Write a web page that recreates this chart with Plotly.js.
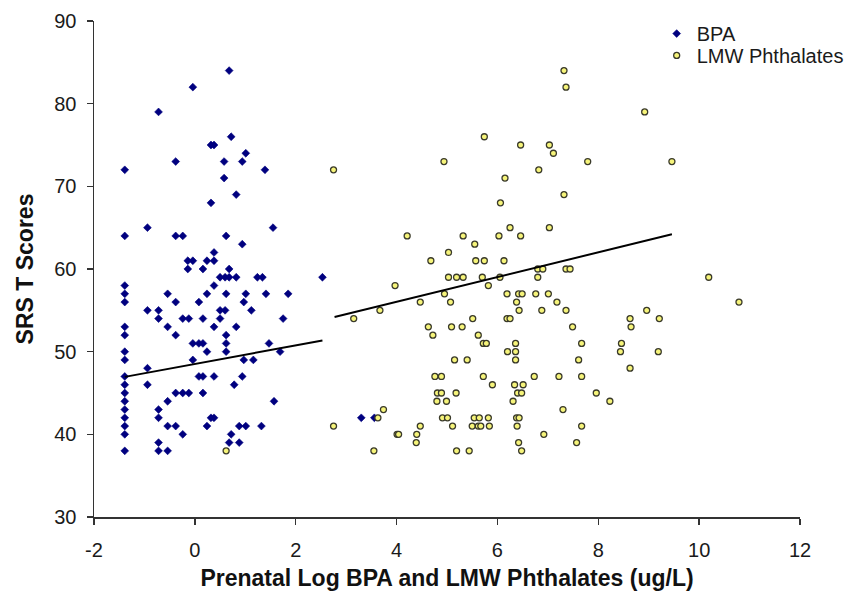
<!DOCTYPE html>
<html>
<head>
<meta charset="utf-8">
<script src="https://cdn.plot.ly/plotly-3.0.1.min.js"></script>
<style>html,body{margin:0;padding:0;background:#fff;}#chart{width:848px;height:591px;}</style>
</head>
<body>
<div id="chart"></div>
<script>
// BPA (log ug/L) vs SRS T score
const bpaX = [
  -1.39,-1.39,-1.39,-1.39,-1.39,-1.39,-1.39,-1.39,-1.39,-1.39,-1.39,-1.39,-1.39,-1.39,-1.39,-1.39,-1.39,-1.39,
  -0.04,-0.72,0.32,0.38,-0.38,0.68,0.72,1.01,0.58,0.94,1.39,0.58,0.82,0.32,-0.94,1.55,-0.38,-0.24,0.62,0.94,0.38,
  -0.14,-0.04,0.24,0.38,
  -0.14,0.16,0.68,
  0.50,0.60,0.68,0.82,1.24,1.34,2.53,
  0.38,
  -0.54,0.24,0.62,1.01,1.41,1.85,
  -0.38,0.08,0.97,
  -0.94,-0.72,0.50,0.60,1.12,
  -0.72,-0.24,-0.12,0.16,0.50,1.75,
  -0.54,0.38,0.82,
  -0.38,0.62,
  -0.04,0.08,0.16,0.62,1.47,
  0.24,0.62,1.69,
  -0.04,0.97,1.16,
  -0.94,
  0.08,0.16,0.38,0.94,
  -0.94,0.78,
  -0.38,-0.24,-0.12,0.16,
  -0.54,1.57,
  -0.72,
  -0.72,0.32,0.38,3.30,3.56,
  -0.54,-0.38,0.24,0.88,1.01,1.32,
  -0.24,0.72,
  -0.72,0.68,0.88,
  -0.72,-0.54
];
const bpaY = [
  72,64,58,57,56,53,52,50,49,47,46,45,44,43,42,41,40,38,
  82,79,75,75,73,84,76,74,73,73,72,71,69,68,65,65,64,64,64,63,62,
  61,61,61,61,
  60,60,60,
  59,59,59,59,59,59,59,
  58,
  57,57,57,57,57,57,
  56,56,56,
  55,55,55,55,55,
  54,54,54,54,54,54,
  53,53,53,
  52,52,
  51,51,51,51,51,
  50,50,50,
  49,49,49,
  48,
  47,47,47,47,
  46,46,
  45,45,45,45,
  44,44,
  43,
  42,42,42,42,42,
  41,41,41,41,41,41,
  40,40,
  39,39,39,
  38,38
];

// LMW Phthalates (log ug/L) vs SRS T score
const lmwX = [
  7.32, 7.36, 8.92, 5.74,
  6.46,7.03, 7.11, 4.94,7.79,9.46, 2.75,6.82, 6.15, 7.32, 6.06, 6.25,7.03,
  4.21,5.32,6.03,6.46, 5.55, 5.03, 4.68,5.57,5.74,6.13,
  6.80,6.90,7.36,7.44,
  5.03,5.19,5.32,5.70,6.05,6.80,10.19,
  3.97,5.82,
  4.95,6.19,6.42,6.49,6.76,7.01,
  4.47,5.07,6.38,7.18,10.79,
  3.67,6.43,6.88,7.36,8.96,
  3.15,5.51,6.19,6.25,8.63,9.21,
  4.63,5.09,5.30,7.49,8.65,
  4.72,5.62,
  5.72,5.78,6.36,7.67,8.46,
  6.20,6.36,8.44,9.19,
  5.15,5.40,6.36,7.61,
  8.63,
  4.76,4.89,5.72,6.73,7.22,7.67,
  5.90,6.34,6.51,
  4.81,4.89,5.18,6.40,6.48,7.96,
  4.80,4.99,6.31,8.23,
  3.74,7.30,
  3.63,4.91,5.01,5.54,5.64,5.82,6.38,6.43,
  2.75,4.47,5.11,5.50,5.62,5.67,5.84,6.39,7.67,
  4.01,4.04,4.40,6.92,
  4.39,6.42,7.57,
  0.62,3.55,5.19,5.44,6.48
];
const lmwY = [
  84, 82, 79, 76,
  75,75, 74, 73,73,73, 72,72, 71, 69, 68, 65,65,
  64,64,64,64, 63, 62, 61,61,61,61,
  60,60,60,60,
  59,59,59,59,59,59,59,
  58,58,
  57,57,57,57,57,57,
  56,56,56,56,56,
  55,55,55,55,55,
  54,54,54,54,54,54,
  53,53,53,53,53,
  52,52,
  51,51,51,51,51,
  50,50,50,50,
  49,49,49,49,
  48,
  47,47,47,47,47,47,
  46,46,46,
  45,45,45,45,45,45,
  44,44,44,44,
  43,43,
  42,42,42,42,42,42,42,42,
  41,41,41,41,41,41,41,41,41,
  40,40,40,40,
  39,39,39,
  38,38,38,38,38
];

// Fitted regression lines (endpoints)
const bpaFitX = [-1.39, 2.53];
const bpaFitY = [46.95, 51.36];
const lmwFitX = [2.77, 9.46];
const lmwFitY = [54.2, 64.2];

const xTickVals = [-2, 0, 2, 4, 6, 8, 10, 12];
const xTickText = ['-2', '0', '2', '4', '6', '8', '10', '12'];
const yTickVals = [30, 40, 50, 60, 70, 80, 90];

const FONT = 'Liberation Sans, Arial, sans-serif';

const traces = [
  {
    x: bpaX, y: bpaY, type: 'scatter', mode: 'markers', name: 'BPA', legend: 'legend',
    marker: {symbol: 'diamond', size: 6, color: '#00007f', line: {width: 0.6, color: '#00007f'}},
    hoverinfo: 'x+y'
  },
  {
    x: lmwX, y: lmwY, type: 'scatter', mode: 'markers', name: 'LMW Phthalates', legend: 'legend2',
    marker: {symbol: 'circle', size: 6, color: '#f6f47a', line: {width: 1.3, color: '#3a3a2a'}},
    hoverinfo: 'x+y'
  },
  {
    x: bpaFitX, y: bpaFitY, type: 'scatter', mode: 'lines', showlegend: false,
    line: {color: '#000000', width: 2}, hoverinfo: 'skip'
  },
  {
    x: lmwFitX, y: lmwFitY, type: 'scatter', mode: 'lines', showlegend: false,
    line: {color: '#000000', width: 2}, hoverinfo: 'skip'
  }
];

const legendStyle = (yPos) => ({
  x: 0.797, y: yPos, xanchor: 'left', yanchor: 'top',
  bgcolor: 'rgba(0,0,0,0)', borderwidth: 0,
  font: {family: FONT, size: 20, color: '#1a1a1a'},
  itemwidth: 30
});

const layout = {
  width: 848, height: 591,
  margin: {l: 94, r: 48, t: 21, b: 74, autoexpand: false},
  paper_bgcolor: '#ffffff', plot_bgcolor: '#ffffff',
  font: {family: FONT, color: '#1a1a1a', size: 20},
  showlegend: true,
  legend: legendStyle(1.014),
  legend2: legendStyle(0.970),
  xaxis: {
    range: [-2, 12], tickmode: 'array', tickvals: xTickVals, ticktext: xTickText,
    ticks: 'outside', ticklen: 6, tickwidth: 1.5, tickcolor: '#333333',
    showline: true, linecolor: '#333333', linewidth: 1.5,
    showgrid: false, zeroline: false, ticklabelstandoff: 8,
    tickfont: {family: FONT, size: 20, color: '#1a1a1a'},
    title: {text: 'Prenatal Log BPA and LMW Phthalates (ug/L)', standoff: 10,
            font: {family: FONT, size: 23, weight: 'bold', color: '#111111'}}
  },
  yaxis: {
    range: [30, 90], tickmode: 'array', tickvals: yTickVals,
    ticks: 'outside', ticklen: 6, tickwidth: 1.5, tickcolor: '#333333',
    showline: true, linecolor: '#333333', linewidth: 1.5,
    showgrid: false, zeroline: false, ticklabelstandoff: 6,
    tickfont: {family: FONT, size: 20, color: '#1a1a1a'},
    title: {text: 'SRS T Scores', standoff: 14,
            font: {family: FONT, size: 23, weight: 'bold', color: '#111111'}}
  }
};

Plotly.newPlot('chart', traces, layout, {displayModeBar: false, staticPlot: true});
</script>
</body>
</html>
